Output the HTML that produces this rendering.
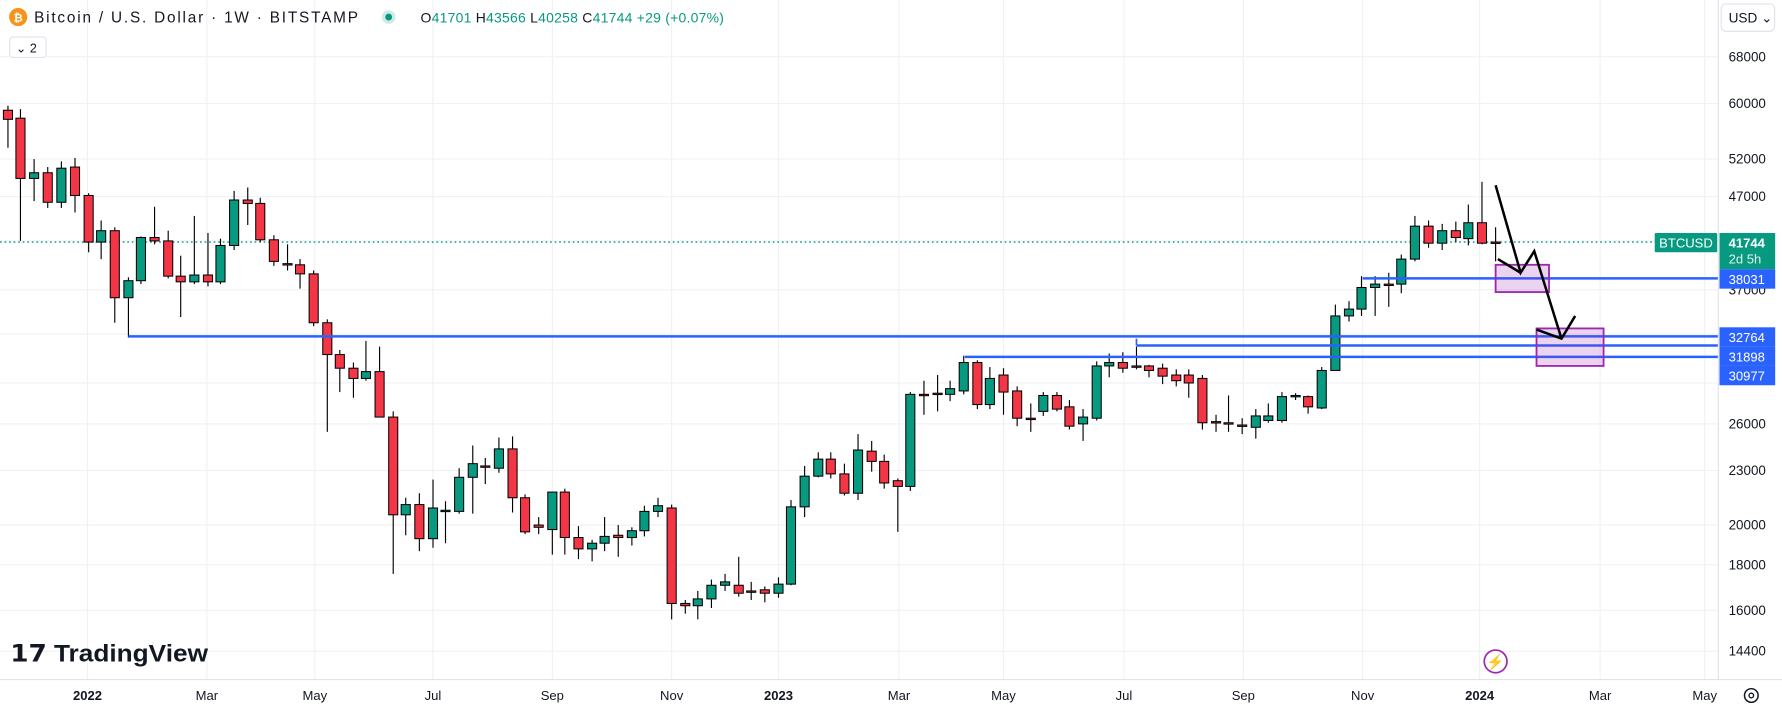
<!DOCTYPE html>
<html><head><meta charset="utf-8"><style>
html,body{margin:0;padding:0;background:#fff;overflow:hidden}
svg{display:block}
text{font-family:"Liberation Sans",Arial,sans-serif}
</style></head><body>
<svg id="s" width="1782" height="708" viewBox="0 0 1568 623" preserveAspectRatio="none" xmlns="http://www.w3.org/2000/svg">
<rect width="1568" height="623" fill="#fff"/>
<g id="grid" stroke="#f0f1f4" stroke-width="1"></g>
<line x1="0" y1="213" x2="1456" y2="213" stroke="#089981" stroke-width="1.2" stroke-dasharray="1.5,2.5"/>
<g id="candles"></g>
<g stroke="#2962ff" stroke-width="2.2">
<line x1="113" y1="296" x2="1512" y2="296"/>
<line x1="1000" y1="304" x2="1512" y2="304"/>
<line x1="1000" y1="304" x2="1000" y2="298" stroke-width="1.5"/>
<line x1="849" y1="314" x2="1512" y2="314"/>
<line x1="1199" y1="245" x2="1512" y2="245"/>
</g>
<rect x="1316" y="233" width="47" height="24" fill="rgba(156,39,176,0.2)" stroke="#9c27b0" stroke-width="1.6"/>
<rect x="1352" y="289" width="59" height="33" fill="rgba(156,39,176,0.2)" stroke="#9c27b0" stroke-width="1.6"/>
<g stroke="#000" stroke-width="2.2" fill="none" stroke-linejoin="miter">
<polyline points="1316,163 1338,240 1350,221 1374,298"/>
<polyline points="1318,228 1338,240"/>
<polyline points="1352,290 1374,298 1386,278"/>
</g>
<line x1="1512" y1="0" x2="1512" y2="598" stroke="#e0e3eb"/>
<line x1="0" y1="598" x2="1568" y2="598" stroke="#e0e3eb"/>
<g id="ylab" font-size="11.8" fill="#131722"></g>
<g id="xlab" font-size="11.5" fill="#131722"></g>
<rect x="1456" y="205" width="55" height="17" rx="1" fill="#089981"/>
<text x="1483.5" y="218" font-size="11.5" fill="#fff" text-anchor="middle">BTCUSD</text>
<rect x="1513" y="205" width="49" height="32" fill="#089981"/>
<text x="1521" y="218" font-size="11.5" fill="#fff" font-weight="bold">41744</text>
<text x="1521" y="232" font-size="11.5" fill="#e0f2ef">2d 5h</text>
<rect x="1513" y="237" width="49" height="17" fill="#2962ff"/>
<text x="1521" y="250" font-size="11.5" fill="#fff">38031</text>
<rect x="1513" y="288" width="49" height="17" fill="#2962ff"/>
<text x="1521" y="301" font-size="11.5" fill="#fff">32764</text>
<rect x="1513" y="305" width="49" height="17" fill="#2962ff"/>
<text x="1521" y="318" font-size="11.5" fill="#fff">31898</text>
<rect x="1513" y="322" width="49" height="17" fill="#2962ff"/>
<text x="1521" y="335" font-size="11.5" fill="#fff">30977</text>
<circle cx="16" cy="15" r="8" fill="#f7931a"/>
<text x="16" y="19" font-size="10" fill="#fff" text-anchor="middle" font-weight="bold">₿</text>
<text x="30" y="20" font-size="13.5" fill="#131722" textLength="285" lengthAdjust="spacing">Bitcoin / U.S. Dollar · 1W · BITSTAMP</text>
<circle cx="342" cy="15" r="6" fill="#cdebe6"/><circle cx="342" cy="15" r="3" fill="#089981"/>
<text x="370" y="20" font-size="12.3" fill="#131722" textLength="267" lengthAdjust="spacing">O<tspan fill="#089981">41701</tspan> H<tspan fill="#089981">43566</tspan> L<tspan fill="#089981">40258</tspan> C<tspan fill="#089981">41744</tspan> <tspan fill="#089981">+29 (+0.07%)</tspan></text>
<rect x="8.5" y="32.5" width="32" height="18" rx="3" fill="#fff" stroke="#e0e3eb"/>
<text x="14" y="46" font-size="11" fill="#131722">⌄ 2</text>
<rect x="1514.5" y="3.5" width="47" height="24" rx="4" fill="#fff" stroke="#e0e3eb"/>
<text x="1521" y="20" font-size="12" fill="#131722">USD ⌄</text>
<text x="9" y="582" font-size="21" font-weight="bold" fill="#131722" textLength="174" lengthAdjust="spacingAndGlyphs">𝟭𝟳 TradingView</text>
<circle cx="1316" cy="582" r="10" fill="#fff" stroke="#9c27b0" stroke-width="1.5"/>
<text x="1316" y="587" font-size="13" fill="#e91e63" text-anchor="middle">⚡</text>
<circle cx="1541" cy="612" r="6" fill="none" stroke="#131722" stroke-width="1.3"/>
<circle cx="1541" cy="612" r="2" fill="none" stroke="#131722" stroke-width="1.2"/>
</svg>
<script>
var NS="http://www.w3.org/2000/svg";
function el(t,a,p){var e=document.createElementNS(NS,t);for(var k in a)e.setAttribute(k,a[k]);p.appendChild(e);return e;}
var grid=document.getElementById('grid');
var ys=[50,91,140,173,212,255,294,337,373,414,462,497,537,573];
ys.forEach(function(y){el('line',{x1:0,y1:y,x2:1512,y2:y},grid);});
var xs=[77,182,277,381,486,591,685,791,883,989,1094,1199,1302,1408,1500];
xs.forEach(function(x){el('line',{x1:x,y1:0,x2:x,y2:598},grid);});
var yl=document.getElementById('ylab');
[["68000",50],["60000",91],["52000",140],["47000",173],["37000",255],["26000",373],["23000",414],["20000",462],["18000",497],["16000",537],["14400",573]].forEach(function(d){
 var t=el('text',{x:1521,y:d[1]+4},yl);t.textContent=d[0];});
var xl=document.getElementById('xlab');
var xn=["2022","Mar","May","Jul","Sep","Nov","2023","Mar","May","Jul","Sep","Nov","2024","Mar","May"];
xn.forEach(function(n,i){var t=el('text',{x:xs[i],y:616,'text-anchor':'middle'},xl);t.textContent=n;if(/^20/.test(n))t.setAttribute('font-weight','bold');});
var C=[[7,97,105,93,130],[18,104,157,96,212],[30,157,152,140,177],[42,152,178,147,183],[54,178,148,142,183],[66,147,172,139,187],[78,172,213,170,222],[89,213,203,194,228],[101,203,262,200,284],[113,262,247,244,297],[124,247,209,208,250],[136,209,212,182,215],[148,212,243,203,245],[159,243,248,225,279],[171,248,242,190,250],[183,242,248,205,252],[194,248,216,210,250],[206,216,176,168,220],[218,176,179,165,198],[229,179,211,174,213],[241,211,230,207,234],[253,232,233,215,238],[264,233,241,228,254],[276,241,284,238,287],[288,284,312,281,380],[299,312,324,308,345],[311,324,333,319,350],[322,333,327,300,335],[334,327,367,305,367],[346,367,453,362,505],[357,453,444,438,471],[369,444,474,434,485],[381,474,447,422,482],[392,449,449,441,478],[404,450,420,412,452],[416,420,408,392,452],[427,410,411,403,426],[439,412,395,385,416],[451,395,438,384,451],[462,438,468,435,470],[474,462,464,455,470],[486,466,433,433,488],[497,433,473,430,488],[509,473,483,463,492],[521,483,478,475,494],[532,478,472,455,485],[544,471,473,462,490],[556,473,467,464,480],[567,467,450,445,472],[579,450,445,438,455],[591,447,531,444,545],[603,531,533,528,540],[614,533,527,520,545],[626,527,515,510,535],[638,515,512,505,520],[650,515,522,490,525],[661,520,521,512,528],[673,519,522,516,530],[685,522,514,508,526],[696,514,446,440,515],[708,446,419,410,455],[720,419,404,398,420],[731,404,417,398,421],[743,417,434,408,436],[755,434,396,382,440],[767,397,406,388,415],[778,406,425,400,430],[790,423,428,421,468],[801,428,347,345,432],[813,347,348,335,365],[825,346,347,330,362],[836,347,342,335,353],[848,344,319,313,347],[860,319,356,317,360],[871,356,333,323,360],[883,330,345,324,365],[895,344,368,340,375],[907,368,369,355,380],[918,362,348,345,366],[930,348,360,345,362],[941,358,375,352,378],[953,373,367,360,388],[965,368,322,318,370],[976,322,319,311,332],[988,319,324,310,328],[1000,322,323,305,325],[1011,322,326,321,332],[1023,324,331,320,338],[1035,330,335,325,340],[1046,330,337,325,350],[1058,333,372,330,378],[1070,371,372,365,380],[1081,372,373,348,380],[1093,374,375,368,382],[1105,376,366,360,386],[1116,370,366,355,372],[1128,370,349,345,372],[1140,349,348,346,352],[1151,349,358,348,364],[1163,359,326,323,360],[1175,326,278,268,326],[1187,278,272,265,283],[1198,272,253,243,278],[1210,253,250,243,278],[1222,250,251,240,270],[1233,250,228,224,258],[1245,228,199,190,230],[1257,199,214,194,218],[1269,214,203,197,220],[1281,203,209,195,213],[1292,210,196,180,216],[1304,196,214,160,215],[1316,213,214,200,230]];
var cg=document.getElementById('candles');
C.forEach(function(c){var x=c[0],o=c[1],cl=c[2],h=c[3],l=c[4];
 var up=cl<=o;var top=Math.min(o,cl),bot=Math.max(o,cl);
 el('line',{x1:x,y1:h,x2:x,y2:l,stroke:'#000','stroke-width':1},cg);
 var hh=Math.max(bot-top,1.2);
 el('rect',{x:x-4,y:top,width:8,height:hh,fill:up?'#089981':'#f23645',stroke:'#000','stroke-width':0.9},cg);
});
</script>
</body></html>
